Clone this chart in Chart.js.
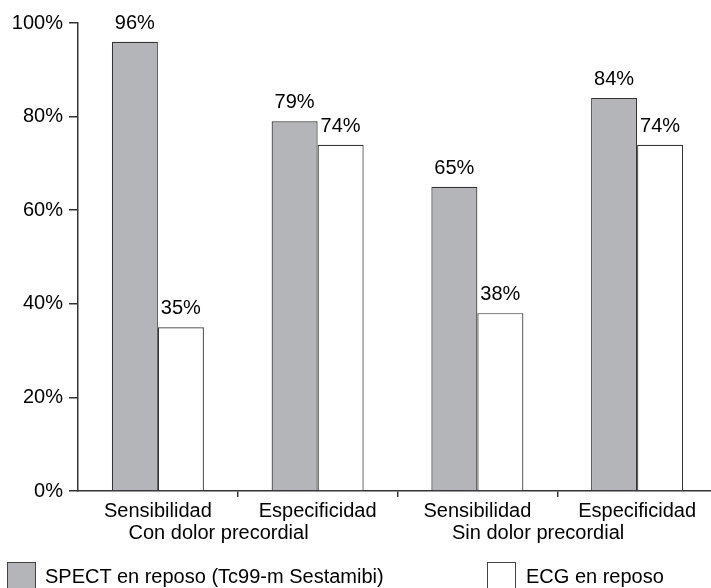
<!DOCTYPE html>
<html>
<head>
<meta charset="utf-8">
<script src="https://cdn.jsdelivr.net/npm/chart.js@4/dist/chart.umd.min.js"></script>
<style>
  html, body { margin: 0; padding: 0; background: #fff; overflow: hidden; width: 711px; height: 588px; }
  #wrap { position: absolute; left: 0; top: 0; width: 720px; height: 588px; }
  .leg { position: absolute; font: 20px "Liberation Sans", Arial, sans-serif; line-height: 20px; color: #000; white-space: nowrap; }
  .box { position: absolute; width: 29px; height: 30px; border: 1px solid #444; box-sizing: border-box; }
</style>
</head>
<body>
<div id="wrap"><canvas id="c" width="720" height="588"></canvas></div>
<div class="box" id="box0" style="left:7px;top:562px"></div>
<div class="leg" id="leg0" style="left:45px;top:566px"></div>
<div class="box" id="box1" style="left:487px;top:562px"></div>
<div class="leg" id="leg1" style="left:526px;top:566px"></div>
<script>
// Categories, groups and series values
const categories = ['Sensibilidad', 'Especificidad', 'Sensibilidad', 'Especificidad'];
const groups = ['Con dolor precordial', 'Sin dolor precordial'];
const seriesNames = ['SPECT en reposo (Tc99-m Sestamibi)', 'ECG en reposo'];
const spectValues = [96, 79, 65, 84];
const ecgValues = [35, 74, 38, 74];
const yTickValues = [0, 20, 40, 60, 80, 100];

const FONT = '"Liberation Sans", Arial, sans-serif';
const INK = '#333';
const seriesColors = ['#b4b5b9', '#ffffff'];

// Legend swatches and names
['box0', 'box1'].forEach((id, i) => { document.getElementById(id).style.background = seriesColors[i]; });
['leg0', 'leg1'].forEach((id, i) => { document.getElementById(id).textContent = seriesNames[i]; });

// Percent value printed above each bar
const valueLabels = {
  id: 'valueLabels',
  afterDatasetsDraw(chart) {
    const ctx = chart.ctx;
    ctx.save();
    ctx.font = '20px ' + FONT;
    ctx.fillStyle = '#000';
    ctx.textAlign = 'center';
    ctx.textBaseline = 'alphabetic';
    chart.data.datasets.forEach((ds, di) => {
      chart.getDatasetMeta(di).data.forEach((bar, i) => {
        ctx.fillText(ds.data[i] + '%', bar.x, bar.y - 13);
      });
    });
    ctx.restore();
  }
};

// Second row of x labels: one per pair of categories
const groupLabels = {
  id: 'groupLabels',
  afterDraw(chart) {
    const ctx = chart.ctx;
    const xs = chart.scales.x;
    const step = xs.getPixelForValue(1) - xs.getPixelForValue(0);
    ctx.save();
    ctx.font = '20px ' + FONT;
    ctx.fillStyle = '#000';
    ctx.textAlign = 'center';
    ctx.textBaseline = 'alphabetic';
    groups.forEach((g, gi) => {
      const mid = (xs.getPixelForValue(2 * gi) + xs.getPixelForValue(2 * gi + 1)) / 2 - step * 0.12;
      ctx.fillText(g, mid, chart.chartArea.bottom + 48);
    });
    ctx.restore();
  }
};

new Chart(document.getElementById('c'), {
  type: 'bar',
  data: {
    labels: categories,
    datasets: [
      { label: seriesNames[0], data: spectValues, backgroundColor: seriesColors[0], borderColor: INK, borderWidth: 1.2,
        categoryPercentage: 0.576, barPercentage: 1 },
      { label: seriesNames[1], data: ecgValues, backgroundColor: seriesColors[1], borderColor: INK, borderWidth: 1.2,
        categoryPercentage: 0.576, barPercentage: 1 }
    ]
  },
  options: {
    responsive: false,
    animation: false,
    devicePixelRatio: 1,
    layout: { padding: { top: 23, right: 3, left: 0, bottom: 0 } },
    plugins: { legend: { display: false }, tooltip: { enabled: false } },
    scales: {
      x: {
        offset: true,
        afterFit(s) { s.height = 97; },
        grid: {
          offset: true,
          drawOnChartArea: false,
          tickLength: 6,
          lineWidth: 1.5,
          color: c => (c.type === 'tick' && c.index > 0) ? INK : 'rgba(0,0,0,0)'
        },
        border: { color: INK, width: 1.5 },
        ticks: { color: '#000', font: { family: FONT, size: 20 }, padding: 2, maxRotation: 0 }
      },
      y: {
        min: 0,
        max: 100,
        afterFit(s) { s.width = 78; },
        afterBuildTicks(s) { s.ticks = yTickValues.map(v => ({ value: v })); },
        grid: { drawOnChartArea: false, tickLength: 9, color: INK, lineWidth: 1.5 },
        border: { color: INK, width: 1.5 },
        ticks: { color: '#000', font: { family: FONT, size: 20 }, padding: 6, callback: v => v + '%' }
      }
    }
  },
  plugins: [valueLabels, groupLabels]
});
</script>
</body>
</html>
